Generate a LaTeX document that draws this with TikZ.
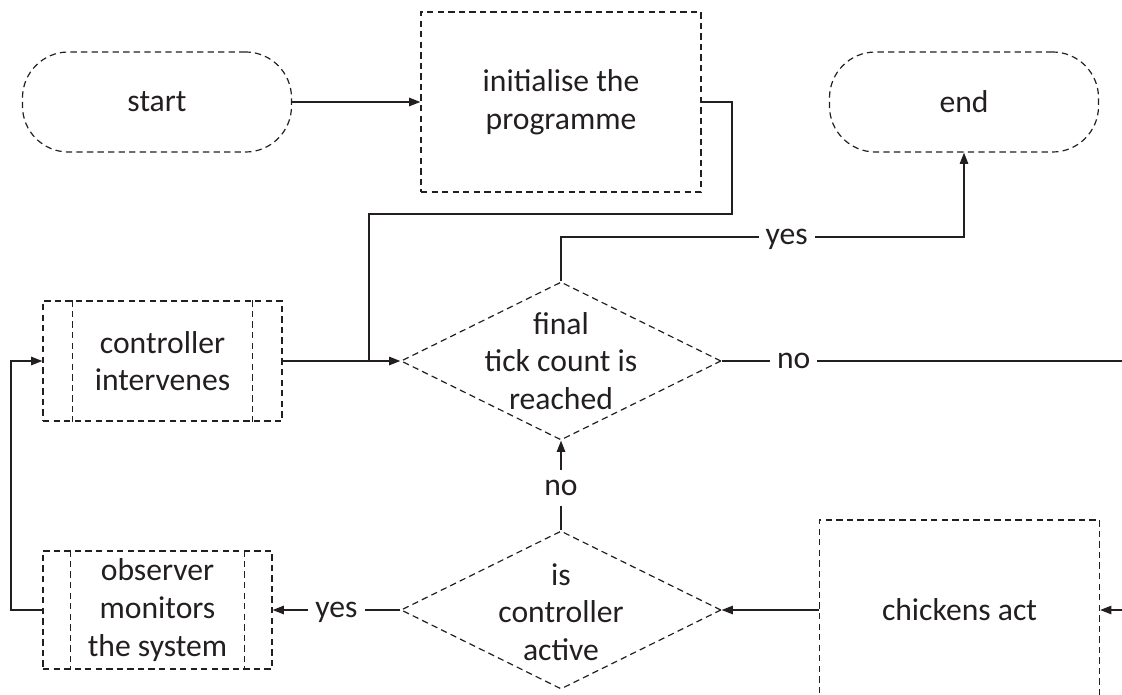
\documentclass[tikz,border=0pt]{standalone}
\usepackage{fontspec}
\setmainfont{Carlito}
\usetikzlibrary{shapes,arrows.meta,positioning}
\definecolor{ink}{HTML}{231F20}
\tikzstyle{dashline} = [draw=ink, line width=0.85pt, dash pattern=on 4.5pt off 3pt]
\tikzstyle{term} = [dashline, rectangle, rounded corners=1.15cm, minimum width=6.725cm, minimum height=2.5cm, inner sep=0pt]
\tikzstyle{proc} = [dashline, rectangle, minimum width=7cm, minimum height=4.5cm, inner sep=0pt, align=center]
\tikzstyle{subproc} = [dashline, rectangle, inner sep=0pt, align=center]
\tikzstyle{decision} = [dashline, diamond, minimum width=8cm, minimum height=3.95cm, inner sep=0pt]
\tikzstyle{line} = [draw=ink, line width=0.95pt]
\tikzstyle{arrow} = [line, -{Triangle[length=8pt,width=6pt]}]
\tikzstyle{lbl} = [fill=white, inner xsep=5pt, inner ysep=0pt, text height=18pt, text depth=8pt]

\begin{document}
\begin{tikzpicture}[x=0.025cm, y=-0.025cm, font=\fontsize{22.5pt}{26.8pt}\selectfont, text=ink]
	\useasboundingbox (0,0) rectangle (1122,695);

	\node [term] (start) at (157,102) {start};
	\node [proc] (init) at (561,102) {initialise the\\programme};
	\node [term] (end) at (964,102) {end};

	\node [subproc, minimum width=5.975cm, minimum height=3cm] (ctrl) at (162.5,361) {controller\\intervenes};
	\draw [dashline] ([xshift=0.75cm]ctrl.north west) -- ([xshift=0.75cm]ctrl.south west);
	\draw [dashline] ([xshift=-0.75cm]ctrl.north east) -- ([xshift=-0.75cm]ctrl.south east);

	\node [decision] (final) at (561,361) {};
	\node [align=center] (finaltxt) at (561,361) {final\\tick count is\\reached};

	\node [decision] (active) at (561,610) {};
	\node [align=center] (activetxt) at (561,612) {is\\controller\\active};

	\node [subproc, minimum width=5.725cm, minimum height=2.95cm] (obs) at (157.5,610) {observer\\monitors\\the system};
	\draw [dashline] ([xshift=0.7cm]obs.north west) -- ([xshift=0.7cm]obs.south west);
	\draw [dashline] ([xshift=-0.7cm]obs.north east) -- ([xshift=-0.7cm]obs.south east);

	\node [proc] (chick) at (959.5,610) {chickens act};

	\coordinate (j1) at (732,214);
	\coordinate (j2) at (369,361);
	\coordinate (y1) at (561,237);
	\coordinate (outA) at (1122,361);
	\coordinate (inB) at (1122,610);
	\coordinate (lp) at (11,610);

	\path [arrow] (start) -- (init);
	\path [line] (init.east) -| (j1) -| (j2);
	\path [arrow] (ctrl) -- (final);
	\path [arrow] (final.north) -- (y1) -| node [lbl, pos=0.28] {yes} (end.south);
	\path [line] (final.east) -- node [lbl, pos=0.18] {no} (outA);
	\path [arrow] (active.north) -- node [lbl, pos=0.47] {no} (final.south);
	\path [arrow] (inB) -- (chick);
	\path [arrow] (chick) -- (active);
	\path [arrow] (active.west) -- node [lbl] {yes} (obs.east);
	\path [arrow] (obs.west) -- (lp) |- (ctrl.west);
\end{tikzpicture}
\end{document}
